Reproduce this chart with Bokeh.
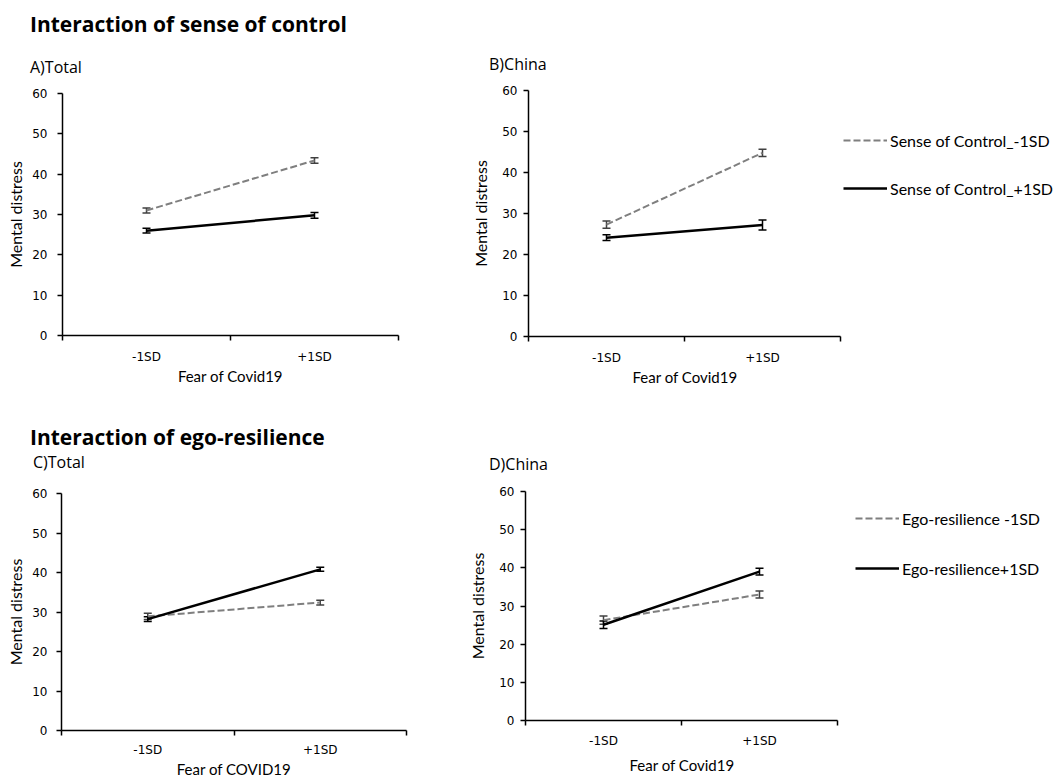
from bokeh.plotting import figure
from bokeh.models import (Range1d, FixedTicker, Legend, LegendItem, Div, Title,
                          ColumnDataSource, Whisker, TeeHead)
from bokeh.layouts import row, column
from bokeh.embed import file_html
from bokeh.resources import INLINE

# ---------------- data ----------------
categories = ["-1SD", "+1SD"]
y_ticks = [0, 10, 20, 30, 40, 50, 60]

# A) Total - sense of control
a_low = [31.0, 43.4]
a_low_err = [0.6, 0.7]
a_high = [26.0, 29.8]
a_high_err = [0.6, 0.7]
# B) China - sense of control
b_low = [27.3, 44.8]
b_low_err = [0.9, 0.9]
b_high = [24.1, 27.2]
b_high_err = [0.7, 1.2]
# C) Total - ego-resilience
c_low = [28.9, 32.4]
c_low_err = [0.8, 0.6]
c_high = [28.2, 40.8]
c_high_err = [0.6, 0.5]
# D) China - ego-resilience
d_low = [26.3, 33.0]
d_low_err = [1.1, 0.9]
d_high = [25.1, 39.0]
d_high_err = [1.0, 0.9]

soc_labels = ["Sense of Control_-1SD", "Sense of Control_+1SD"]
ego_labels = ["Ego-resilience -1SD", "Ego-resilience+1SD"]
titles = ["Interaction of sense of control", "Interaction of ego-resilience"]
subtitles = ["A)Total", "B)China", "C)Total", "D)China"]

TEXT_FONT = "Lato"
TICK_FONT = "DejaVu Sans"
GRAY = "#7f7f7f"
W = 1056


def header(height, title, title_top, subs):
    parts = [f'<div style="position:relative;width:{W}px;height:{height}px;'
             f'font-family:\'Open Sans\';color:black;line-height:normal;">']
    parts.append(f'<span style="position:absolute;left:30px;top:{title_top}px;'
                 f'font-size:21px;font-weight:bold;white-space:nowrap;">{title}</span>')
    for (txt, left, top) in subs:
        parts.append(f'<span style="position:absolute;left:{left}px;top:{top}px;'
                     f'font-size:16px;white-space:nowrap;">{txt}</span>')
    parts.append('</div>')
    return Div(text="".join(parts), width=W, height=height, margin=0)


def panel(width, height, fl, ft, fw, fh, cat_w, low, low_err, high, high_err,
          xlabel, x_ts, x_as, y_ts, y_as, legend=None):
    n = len(categories)
    xs = [i + 0.5 for i in range(n)]
    p = figure(width=width, height=height, output_backend="svg",
               toolbar_location=None, x_range=Range1d(0, n * fw / cat_w),
               y_range=Range1d(0, 60),
               min_border_left=fl, min_border_top=ft,
               min_border_right=width - fl - fw,
               min_border_bottom=height - ft - fh)
    p.outline_line_color = None
    p.xgrid.visible = False
    p.ygrid.visible = False

    # x axis: labels at category centres, ticks at category boundaries
    xa = p.xaxis[0]
    xa.bounds = (0, n)
    xa.ticker = FixedTicker(ticks=xs, minor_ticks=list(range(n + 1)))
    xa.major_label_overrides = {x: c for x, c in zip(xs, categories)}
    xa.major_tick_out = 0
    xa.major_tick_in = 0
    xa.minor_tick_out = 5
    xa.minor_tick_in = 0
    xa.minor_tick_line_color = "black"
    xa.minor_tick_line_width = 1.5
    xa.axis_line_color = "black"
    xa.axis_line_width = 1.5
    xa.major_label_text_font = TICK_FONT
    xa.major_label_text_font_size = "12px"
    xa.major_label_text_color = "black"
    xa.major_label_standoff = x_ts
    if cat_w == fw:
        xa.axis_label = xlabel
        xa.axis_label_text_font = TEXT_FONT
        xa.axis_label_text_font_size = "15px"
        xa.axis_label_text_font_style = "normal"
        xa.axis_label_text_color = "black"
        xa.axis_label_standoff = x_as
    else:
        # frame is wider than the category area (room for the legend):
        # centre the axis title under the categories only
        p.add_layout(Title(text=xlabel, align="left", offset=cat_w / 2 - 52,
                           vertical_align="top", standoff=x_as,
                           text_font=TEXT_FONT, text_font_size="15px",
                           text_font_style="normal", text_color="black"),
                     "below")

    ya = p.yaxis[0]
    ya.ticker = FixedTicker(ticks=y_ticks)
    ya.major_tick_out = 5
    ya.major_tick_in = 0
    ya.major_tick_line_color = "black"
    ya.major_tick_line_width = 1.5
    ya.axis_line_color = "black"
    ya.axis_line_width = 1.5
    ya.major_label_text_font = TICK_FONT
    ya.major_label_text_font_size = "12px"
    ya.major_label_text_color = "black"
    ya.major_label_standoff = y_ts
    ya.axis_label = "Mental distress"
    ya.axis_label_text_font = TEXT_FONT
    ya.axis_label_text_font_size = "16px"
    ya.axis_label_text_font_style = "normal"
    ya.axis_label_text_color = "black"
    ya.axis_label_standoff = y_as

    src_low = ColumnDataSource(dict(
        x=xs, y=low,
        upper=[v + e for v, e in zip(low, low_err)],
        lower=[v - e for v, e in zip(low, low_err)]))
    src_high = ColumnDataSource(dict(
        x=xs, y=high,
        upper=[v + e for v, e in zip(high, high_err)],
        lower=[v - e for v, e in zip(high, high_err)]))

    r_low = p.line("x", "y", source=src_low, line_color=GRAY,
                   line_width=2, line_dash="7 3")
    r_high = p.line("x", "y", source=src_high, line_color="black",
                    line_width=2.5)

    for src, col in ((src_low, "#404040"), (src_high, "black")):
        p.add_layout(Whisker(
            source=src, base="x", upper="upper", lower="lower",
            line_color=col, line_width=1.5,
            upper_head=TeeHead(size=8, line_color=col, line_width=1.5),
            lower_head=TeeHead(size=8, line_color=col, line_width=1.5)))

    if legend is not None:
        labels, lx, ly, spacing = legend
        lg = Legend(items=[LegendItem(label=labels[0], renderers=[r_low]),
                           LegendItem(label=labels[1], renderers=[r_high])],
                    location=(lx, ly), orientation="vertical",
                    border_line_alpha=0, background_fill_alpha=0,
                    padding=0, margin=0, spacing=spacing,
                    glyph_width=44, glyph_height=20, label_height=20,
                    label_standoff=3, label_text_font=TEXT_FONT,
                    label_text_font_size="16px", label_text_color="black",
                    label_text_baseline="middle")
        p.add_layout(lg)
    return p


head1 = header(80, titles[0], 10, [(subtitles[0], 30, 56), (subtitles[1], 489, 53)])
pA = panel(430, 308, 62, 13, 336, 242, 336, a_low, a_low_err, a_high, a_high_err,
           "Fear of Covid19", 9, 0, 10, 4)
pB = panel(626, 308, 98, 10, 528, 246, 312, b_low, b_low_err, b_high, b_high_err,
           "Fear of Covid19", 9, 0, 6, 9, legend=(soc_labels, 315, 138, 28))
head2 = header(87, titles[1], 35, [(subtitles[2], 33, 63), (subtitles[3], 489, 65)])
pC = panel(430, 305, 61, 18, 345, 237, 345, c_low, c_low_err, c_high, c_high_err,
           "Fear of COVID19", 7, 0, 9, 4)
pD = panel(626, 305, 95, 16, 531, 231, 312, d_low, d_low_err, d_high, d_high_err,
           "Fear of Covid19", 8, 10, 6, 9, legend=(ego_labels, 330, 142, 30))

layout = column(head1, row(column(pA), column(pB)), head2,
                row(column(pC), column(pD)))

open("out.html", "w").write(file_html(layout, INLINE))
